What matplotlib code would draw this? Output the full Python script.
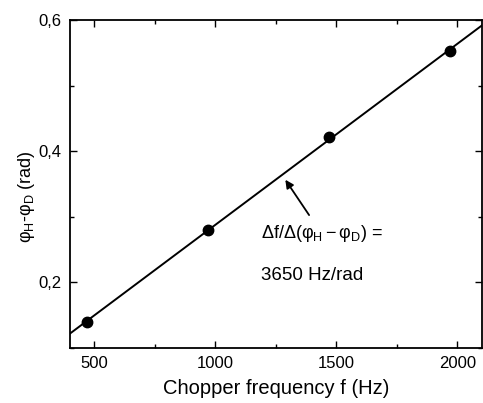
import numpy as np
import matplotlib
matplotlib.use("Agg")
import matplotlib.pyplot as plt
from matplotlib.ticker import FuncFormatter, MultipleLocator

plt.rcParams['font.family'] = ['Liberation Sans', 'DejaVu Sans']
plt.rcParams['mathtext.fontset'] = 'custom'
plt.rcParams['mathtext.rm'] = 'Liberation Sans'
plt.rcParams['mathtext.it'] = 'Liberation Sans'

# data
freq = [472, 970, 1470, 1970]
phase = [0.140, 0.280, 0.421, 0.553]
fit_range = [400, 2100]

fig = plt.figure(figsize=(4.83, 4.03), dpi=100)
ax = fig.add_axes([0.145, 0.137, 0.852, 0.813])

# linear fit through the points
k, b = np.polyfit(freq, phase, 1)
lx = np.array(fit_range)
ax.plot(lx, k * lx + b, color='black', lw=1.4)
ax.plot(freq, phase, 'o', color='black', ms=7.5)

ax.set_xlim(400, 2100)
ax.set_ylim(0.1, 0.6)
ax.xaxis.set_major_locator(MultipleLocator(500))
ax.xaxis.set_minor_locator(MultipleLocator(250))
ax.yaxis.set_major_locator(MultipleLocator(0.2))
ax.yaxis.set_minor_locator(MultipleLocator(0.1))
ax.yaxis.set_major_formatter(FuncFormatter(lambda v, p: ('%.1f' % v).replace('.', ',')))
ax.tick_params(which='both', direction='in', top=True, right=True, labelsize=12, width=1)
ax.tick_params(which='major', length=5, pad=6)
ax.tick_params(which='minor', length=3)
for s in ax.spines.values():
    s.set_linewidth(1.3)

ax.set_xlabel('Chopper frequency f (Hz)', fontsize=14.5, labelpad=6)
ax.set_ylabel(r'$\mathregular{\varphi_H}$-$\mathregular{\varphi_D}$ (rad)', fontsize=13)
ax.yaxis.set_label_coords(-0.08, 0.46)

ax.annotate('', xy=(1283, 0.360), xytext=(1394, 0.299),
            arrowprops=dict(arrowstyle='-|>', color='black', lw=1.3, mutation_scale=12))
ax.text(1189, 0.274, r'$\mathregular{\Delta f/\Delta(\varphi_H - \varphi_D)}$ =', fontsize=13, va='center', ha='left')
ax.text(1189, 0.210, '3650 Hz/rad', fontsize=13.5, va='center', ha='left')

fig.savefig('out.png', dpi=100)
